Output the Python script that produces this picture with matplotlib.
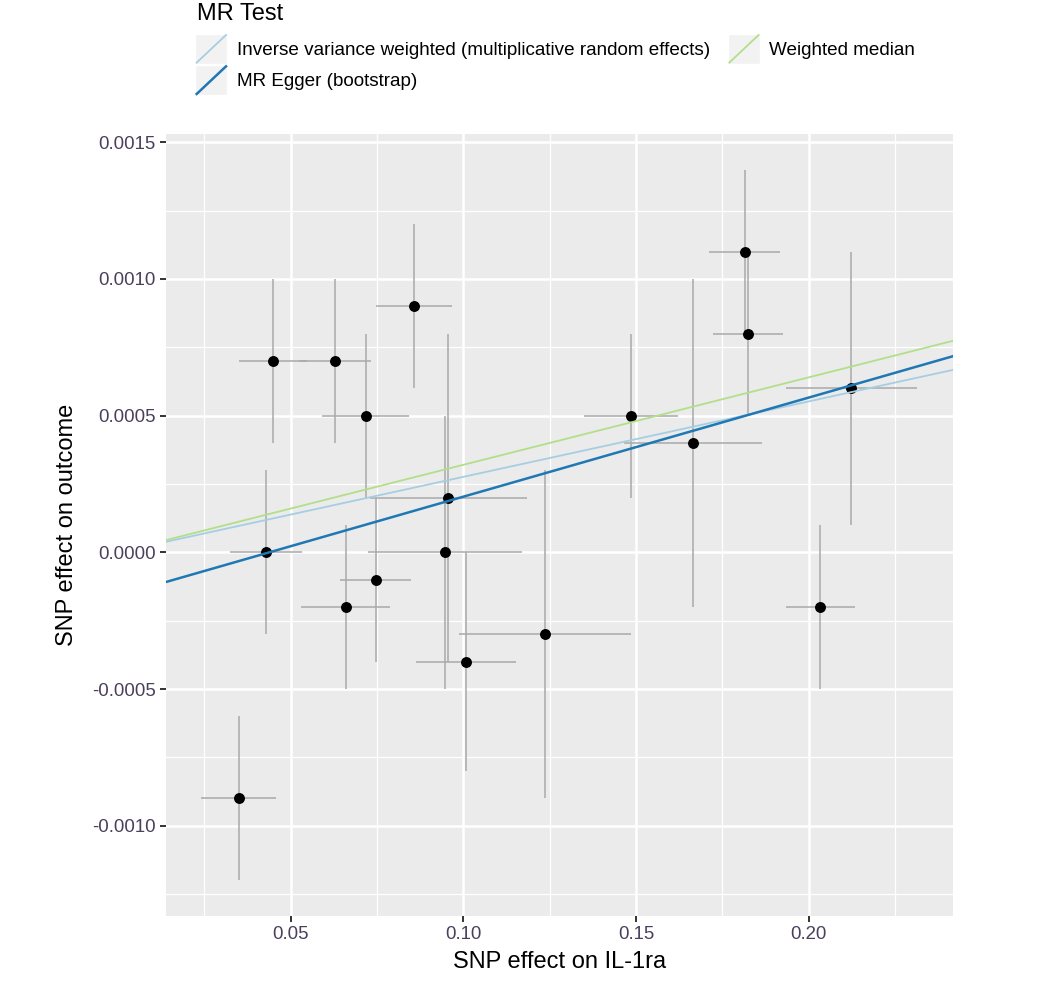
import matplotlib
matplotlib.use('Agg')
import matplotlib.pyplot as plt
from matplotlib.legend_handler import HandlerBase
from matplotlib.lines import Line2D
from matplotlib.patches import Rectangle
from matplotlib.ticker import FixedLocator, FuncFormatter
import numpy as np

plt.rcParams['font.family'] = ['Liberation Sans', 'DejaVu Sans']

# SNP effects
beta_exp = [0.0449, 0.0628, 0.0717, 0.0857, 0.1486, 0.0957, 0.0947, 0.1007, 0.1236,
            0.0430, 0.0659, 0.0746, 0.0350, 0.1814, 0.1824, 0.2123, 0.1664, 0.2033]
beta_out = [0.0007, 0.0007, 0.0005, 0.0009, 0.0005, 0.0002, 0.0000, -0.0004, -0.0003,
            0.0000, -0.0002, -0.0001, -0.0009, 0.0011, 0.0008, 0.0006, 0.0004, -0.0002]
se_exp = [0.0099, 0.0104, 0.0127, 0.0111, 0.0136, 0.0226, 0.0223, 0.0145, 0.0248,
          0.0104, 0.0130, 0.0102, 0.0108, 0.0103, 0.0100, 0.0190, 0.0200, 0.0100]
se_out = [0.0003, 0.0003, 0.0003, 0.0003, 0.0003, 0.0006, 0.0005, 0.0004, 0.0006,
          0.0003, 0.0003, 0.0003, 0.0003, 0.0003, 0.0003, 0.0005, 0.0006, 0.0003]

methods = ['Inverse variance weighted (multiplicative random effects)',
           'MR Egger (bootstrap)', 'Weighted median']
intercepts = [0.0, -0.000159, 0.0]
slopes = [0.00276, 0.003625, 0.0032]
colors = ['#a6cee3', '#1f78b4', '#b2df8a']

x_ticks = [0.05, 0.10, 0.15, 0.20]
y_ticks = [-0.0010, -0.0005, 0.0000, 0.0005, 0.0010, 0.0015]

tick_col = '#4a3f5c'


class DiagHandler(HandlerBase):
    def create_artists(self, legend, orig_handle, xdescent, ydescent,
                       width, height, fontsize, trans):
        bg = Rectangle((-xdescent, -ydescent), width, height, facecolor='#f2f2f2',
                       edgecolor='white', lw=1, transform=trans)
        ln = Line2D([-xdescent + 1, -xdescent + width - 1],
                    [-ydescent + 1, -ydescent + height - 1],
                    color=orig_handle.get_color(), lw=orig_handle.get_linewidth(),
                    transform=trans)
        return [bg, ln]


fig = plt.figure(figsize=(10.5, 10.06), dpi=100)
ax = fig.add_axes([0.1578, 0.0895, 0.7495, 0.7773])
ax.set_facecolor('#ebebeb')
for s in ax.spines.values():
    s.set_visible(False)

bx = np.array(beta_exp)
by = np.array(beta_out)
sx = np.array(se_exp)
sy = np.array(se_out)

ax.errorbar(bx, by, yerr=sy, fmt='none', ecolor='#a9a9a9', elinewidth=1.1, capsize=0, zorder=2)
ax.errorbar(bx, by, xerr=sx, fmt='none', ecolor='#a9a9a9', elinewidth=1.1, capsize=0, zorder=2)
ax.scatter(bx, by, s=62, color='black', zorder=3, linewidths=0)

handles = []
for m, a, b, c in zip(methods, intercepts, slopes, colors):
    lw = 1.8 if c == '#1f78b4' else 1.3
    ax.axline((0, a), slope=b, color=c, lw=lw, zorder=4)
    handles.append(Line2D([], [], color=c, lw=lw, label=m))

# ggplot-style 5% expansion around the error bars
xlo, xhi = (bx - sx).min(), (bx + sx).max()
ylo, yhi = (by - sy).min(), (by + sy).max()
ax.set_xlim(xlo - 0.05 * (xhi - xlo), xhi + 0.05 * (xhi - xlo))
ax.set_ylim(ylo - 0.05 * (yhi - ylo), yhi + 0.05 * (yhi - ylo))

ax.xaxis.set_major_locator(FixedLocator(x_ticks))
ax.yaxis.set_major_locator(FixedLocator(y_ticks))
ax.xaxis.set_minor_locator(FixedLocator([v + 0.025 for v in [0.0] + x_ticks]))
ax.yaxis.set_minor_locator(FixedLocator([v + 0.00025 for v in [-0.0015] + y_ticks]))
ax.xaxis.set_major_formatter(FuncFormatter(lambda v, p: f'{v:.2f}'))
ax.yaxis.set_major_formatter(FuncFormatter(lambda v, p: f'{v:.4f}'))
ax.grid(which='major', color='white', lw=1.8)
ax.grid(which='minor', color='white', lw=0.9)
ax.set_axisbelow(True)
ax.tick_params(which='major', length=4, width=1.4, color='#333333', labelsize=13.4,
               labelcolor=tick_col, pad=3)
ax.tick_params(which='minor', length=0)

ax.set_xlabel('SNP effect on IL-1ra', fontsize=17, color='black', labelpad=6)
ax.set_ylabel('SNP effect on outcome', fontsize=17, color='black', labelpad=10)

# legend title drawn separately so the gap under it can match the original
fig.text(0.1876, 0.997, 'MR Test', fontsize=17, va='top', ha='left')
leg = fig.legend(handles=handles, loc='upper left', bbox_to_anchor=(0.177, 0.976),
                 ncol=2, frameon=False, fontsize=13.6, handlelength=1.7, handleheight=2.1,
                 handletextpad=0.5, columnspacing=0.95, labelspacing=0.05, borderpad=0.0,
                 handler_map={Line2D: DiagHandler()})

fig.savefig('out.png', dpi=100, facecolor='white')
